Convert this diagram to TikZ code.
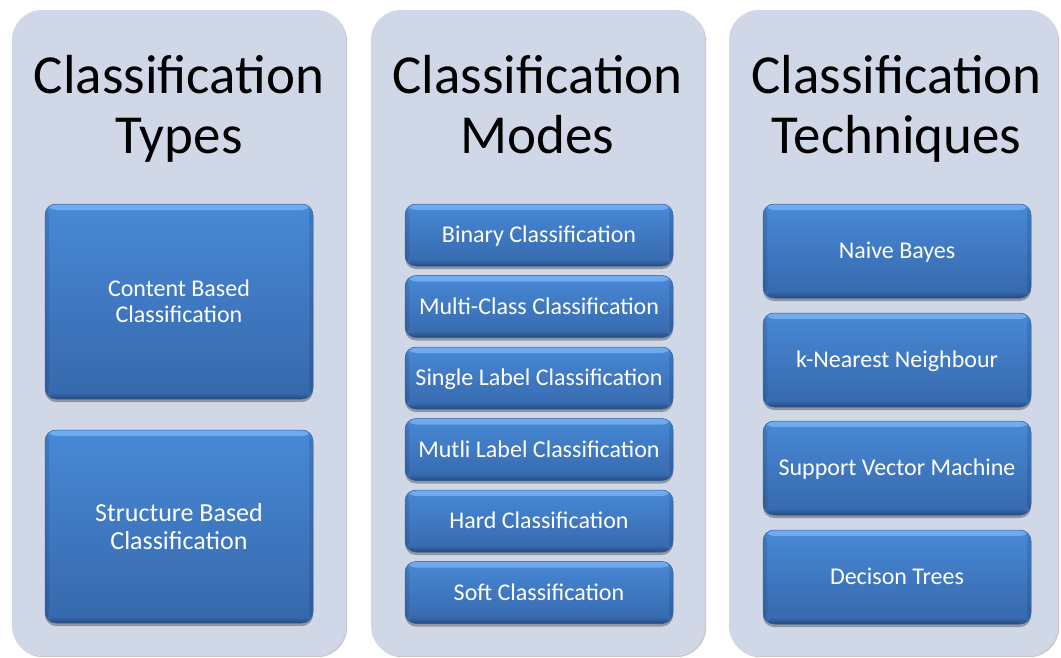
\documentclass[tikz,border=0pt]{standalone}
\usepackage{fontspec}
\setmainfont{Carlito}
\usetikzlibrary{shadows}

\definecolor{panelbg}{RGB}{208,216,232}
\definecolor{boxtop}{RGB}{72,137,214}
\definecolor{boxbot}{RGB}{54,104,172}
\definecolor{boxhi}{RGB}{112,172,240}
\definecolor{boxdark}{RGB}{38,74,126}
\definecolor{boxedge}{RGB}{50,94,156}

\tikzset{
  panel/.style={fill=panelbg, rounded corners=30pt, minimum width=#1,
    minimum height=646pt, inner sep=0pt,
    drop shadow={shadow xshift=1.2pt, shadow yshift=-1.2pt, opacity=0.35, fill=black!60}},
  heading/.style={font=\fontsize{55}{60}\selectfont, anchor=base, inner sep=0pt, text=black},
  tile/.style={rounded corners=11pt, top color=boxtop, bottom color=boxbot,
    draw=boxedge, line width=0.5pt, minimum width=268pt, inner sep=0pt,
    text=white, align=center,
    drop shadow={shadow xshift=0pt, shadow yshift=-3pt, opacity=0.3, fill=black},
    path picture={
      \shade[top color=boxhi, bottom color=boxtop]
        (path picture bounding box.north west) rectangle
        ([yshift=-6pt]path picture bounding box.north east);
      \shade[top color=boxbot, bottom color=boxdark]
        ([yshift=6pt]path picture bounding box.south west) rectangle
        (path picture bounding box.south east);
      \fill[black, opacity=0.10]
        (path picture bounding box.north west) rectangle
        ([xshift=4pt]path picture bounding box.south west);
      \fill[black, opacity=0.10]
        ([xshift=-4pt]path picture bounding box.north east) rectangle
        (path picture bounding box.south east);
    }},
  oneline/.style={font=\fontsize{24}{26}\selectfont, text height=15.5pt, text depth=0pt},
  modebox/.style={tile, oneline, minimum height=62pt},
  techbox/.style={tile, oneline, minimum height=94pt},
}

\begin{document}
\begin{tikzpicture}[x=1pt, y=-1pt]
  \fill[white] (0,0) rectangle (1061,657);
  \useasboundingbox (0,0) rectangle (1061,657);

  % the three column panels
  \node[panel=334pt] (p1) at (179,333) {};
  \node[panel=334pt] (p2) at (538,333) {};
  \node[panel=329pt] (p3) at (893.5,333) {};

  % column headings
  \node[heading] (h1a) at (179,93) {Classification};
  \node[heading] (h1b) at (179,153) {Types};
  \node[heading] (h2a) at (537.5,93) {Classification};
  \node[heading] (h2b) at (537.5,153) {Modes};
  \node[heading] (h3a) at (896.5,93) {Classification};
  \node[heading] (h3b) at (896.5,153) {Techniques};

  % types
  \node[tile, minimum height=195pt, font=\fontsize{24}{26}\selectfont] (ct) at (179,301.5)
    {Content Based\\Classification};
  \node[tile, minimum height=193pt, font=\fontsize{26}{28}\selectfont] (st) at (179,526.5)
    {Structure Based\\Classification};

  % modes
  \node[modebox] (m1) at (539,235)   {Binary Classification};
  \node[modebox] (m2) at (539,306.5) {Multi-Class Classification};
  \node[modebox] (m3) at (539,378)   {Single Label Classification};
  \node[modebox] (m4) at (539,449.5) {Mutli Label Classification};
  \node[modebox] (m5) at (539,521)   {Hard Classification};
  \node[modebox] (m6) at (539,592.5) {Soft Classification};

  % techniques
  \node[techbox] (t1) at (897,251) {Naive Bayes};
  \node[techbox] (t2) at (897,360) {k-Nearest Neighbour};
  \node[techbox] (t3) at (897,468) {Support Vector Machine};
  \node[techbox] (t4) at (897,577) {Decison Trees};
\end{tikzpicture}
\end{document}
